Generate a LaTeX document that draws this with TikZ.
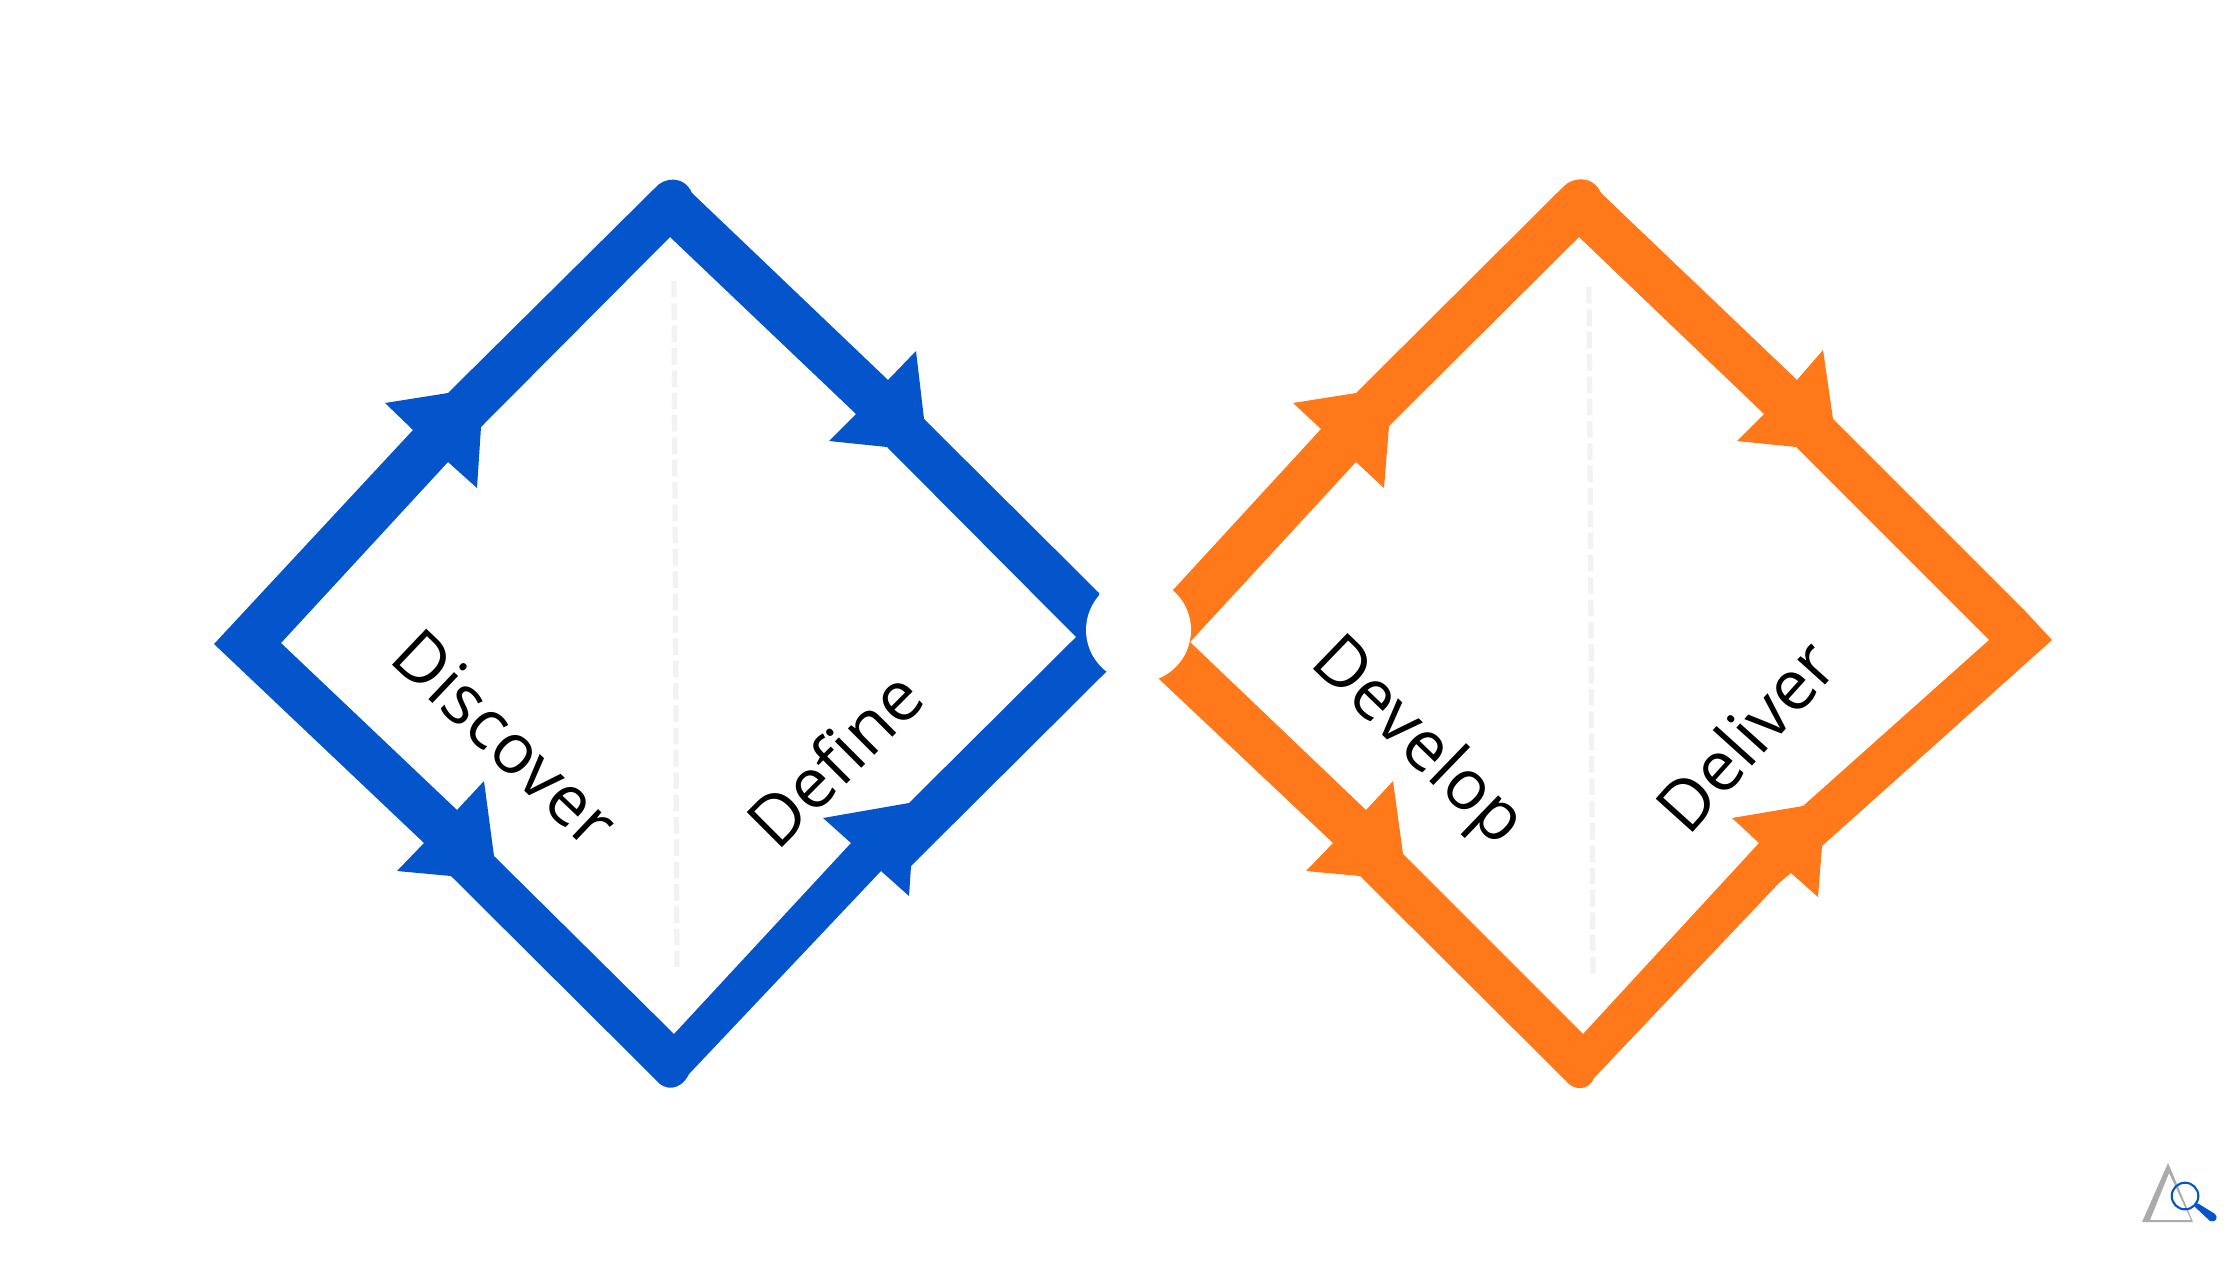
\documentclass[tikz,border=0pt]{standalone}
\usepackage{fontspec}
\setmainfont{Open Sans}[Ligatures=NoCommon]
\definecolor{dblue}{HTML}{0455CC}
\definecolor{dorange}{HTML}{FF781A}
\definecolor{dgrey}{HTML}{F2F2F2}
\definecolor{lgrey}{HTML}{ABABAB}

\begin{document}
\begin{tikzpicture}[x=0.01cm,y=-0.01cm,inner sep=0pt,
  guide/.style={draw=dgrey,line width=1.5pt,dash pattern=on 4.75pt off 1.6pt},
  phase/.style={font=\fontsize{19.8pt}{19.8pt}\selectfont,text=black,anchor=base west}]
\useasboundingbox (0,0) rectangle (2240,1260);

% blue diamond
\fill[dblue,even odd rule]
  (214,644) -- (413,430) -- (385,403) -- (448,393) -- (655,188)
  .. controls (664,177) and (684,175) .. (692,193)
  -- (888,380) -- (916,351) -- (924,419) -- (1099,593) -- (1107,671)
  -- (911,866) -- (909,896) -- (881,871) -- (689,1074)
  .. controls (680,1092) and (664,1090) .. (657,1081)
  -- (451,876) -- (397,871) -- (424,843) -- cycle
  (281,643) -- (448,462) -- (477,488) -- (481,427) -- (670,237)
  -- (856,414) -- (829,441) -- (887,447) -- (1076,637) -- (909,803)
  -- (823,818) -- (851,843) -- (674,1034) -- (494,856) -- (484,781)
  -- (457,810) -- cycle;

% orange diamond
\fill[dorange,even odd rule]
  (1173,590) -- (1321,429) -- (1293,403) -- (1356,393) -- (1564,186)
  .. controls (1573,177) and (1593,175) .. (1601,193)
  -- (1797,380) -- (1823,350) -- (1833,419) -- (2026,612) -- (2052,640)
  -- (1822,846) -- (1818,897) -- (1791,873) -- (1779,883) -- (1594,1078)
  .. controls (1588,1092) and (1573,1090) .. (1566,1081)
  -- (1360,876) -- (1306,871) -- (1333,843) -- (1159,679) -- cycle
  (1190,642) -- (1356,462) -- (1384,488) -- (1389,426) -- (1579,237)
  -- (1764,414) -- (1737,441) -- (1796,447) -- (1989,640) -- (1803,806)
  -- (1732,818) -- (1759,843) -- (1583,1034) -- (1403,854) -- (1393,781)
  -- (1366,810) -- cycle;

% gap between the diamonds
\fill[white] (1138.5,630) circle (52.5);

\draw[guide] (674,281) -- (677,967);
\draw[guide] (1589,287) -- (1593,974);

\node[phase,rotate=-43.5] (discover) at (387,660) {Discover};
\node[phase,rotate=45] (define) at (777,853) {Define};
\node[phase,rotate=-44] (develop) at (1308,664) {Develop};
\node[phase,rotate=48] (deliver) at (1688,838) {Deliver};

% logo
\fill[lgrey,even odd rule] (2168,1163) -- (2142,1222) -- (2193,1222) -- cycle
  (2169,1173) -- (2150,1220) -- (2191,1220) -- cycle;
\draw[dblue,line width=0.6pt] (2185,1196) circle (13.3);
\fill[dblue] (2196,1203) -- (2199,1204) -- (2215,1214)
  .. controls (2219,1218) and (2215,1223) .. (2210,1221) -- (2195,1207) -- cycle;
\end{tikzpicture}
\end{document}
